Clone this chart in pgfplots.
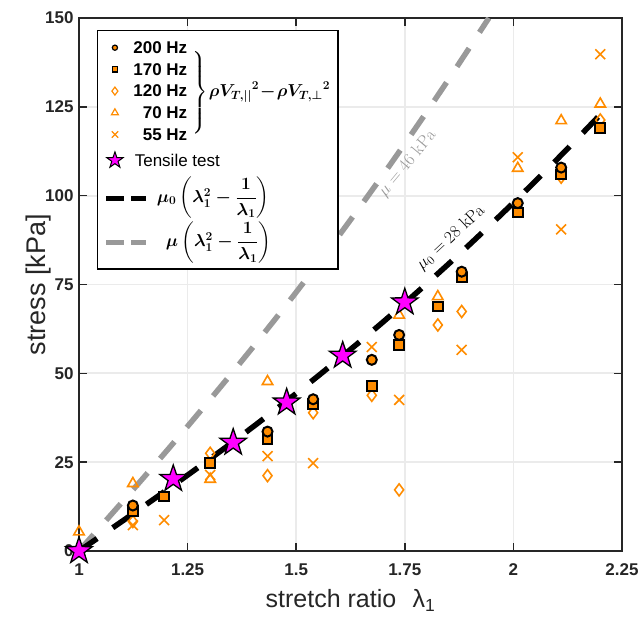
\documentclass[border=0pt]{standalone}
\usepackage{amsmath}
\usepackage[no-math]{fontspec}
\setmainfont{Liberation Sans}
\usepackage{pgfplots}
\usepackage{pgfplotstable}
\pgfplotsset{compat=1.18}
\usetikzlibrary{plotmarks}
\definecolor{orng}{RGB}{255,140,0}
\definecolor{mag}{RGB}{255,0,255}
\definecolor{lgray}{RGB}{153,153,153}
\definecolor{axc}{RGB}{38,38,38}
\definecolor{gridc}{RGB}{235,235,235}

\pgfdeclareplotmark{fstar}{%
  \pgfpathmoveto{\pgfqpointpolar{90}{\pgfplotmarksize}}%
  \pgfpathlineto{\pgfqpointpolar{126}{0.39\pgfplotmarksize}}%
  \pgfpathlineto{\pgfqpointpolar{162}{\pgfplotmarksize}}%
  \pgfpathlineto{\pgfqpointpolar{198}{0.39\pgfplotmarksize}}%
  \pgfpathlineto{\pgfqpointpolar{234}{\pgfplotmarksize}}%
  \pgfpathlineto{\pgfqpointpolar{270}{0.39\pgfplotmarksize}}%
  \pgfpathlineto{\pgfqpointpolar{306}{\pgfplotmarksize}}%
  \pgfpathlineto{\pgfqpointpolar{342}{0.39\pgfplotmarksize}}%
  \pgfpathlineto{\pgfqpointpolar{18}{\pgfplotmarksize}}%
  \pgfpathlineto{\pgfqpointpolar{54}{0.39\pgfplotmarksize}}%
  \pgfpathclose
  \pgfusepathqfillstroke}

\pgfplotsset{
  markleg/.style={legend image code/.code={\draw[mark repeat=2,mark phase=2,##1] plot coordinates {(0pt,0pt) (8.6pt,0pt) (40pt,0pt)};}},
  lineleg/.style={legend image code/.code={\draw[##1] (0pt,0pt) -- (40pt,0pt);}},
}

% 200 Hz
\pgfplotstableread{
x y
1.124 12.8
1.434 33.6
1.539 42.7
1.674 53.8
1.737 60.8
1.881 78.6
2.010 97.9
2.110 107.9
}\dcirc
% 170 Hz
\pgfplotstableread{
x y
1.124 11.3
1.196 15.3
1.302 24.7
1.434 31.5
1.539 41.3
1.674 46.5
1.737 58.0
1.826 68.8
1.881 77.0
2.010 95.3
2.110 106.0
2.200 119.1
}\dsq
% 120 Hz
\pgfplotstableread{
x y
1.124 8.3
1.302 27.5
1.434 21.2
1.539 38.9
1.674 43.8
1.737 17.2
1.826 63.6
1.881 67.4
2.110 105.2
2.200 121.3
}\ddia
% 70 Hz
\pgfplotstableread{
x y
1.000 5.4
1.124 19.0
1.302 20.2
1.434 47.7
1.737 66.4
1.826 71.6
2.010 107.7
2.110 121.1
2.200 125.8
}\dtri
% 55 Hz
\pgfplotstableread{
x y
1.124 7.3
1.196 8.7
1.302 21.4
1.434 26.7
1.539 24.7
1.674 57.4
1.737 42.5
1.881 56.6
2.010 110.8
2.110 90.5
2.200 139.8
}\dcross
% tensile test
\pgfplotstableread{
x y
1.000 0
1.217 20.3
1.355 30.5
1.478 41.8
1.607 55.0
1.750 70.0
}\dstar
% mu0 = 28 kPa model
\pgfplotstableread{
x y
1.00 0
1.05 4.20
1.10 8.43
1.15 12.68
1.20 16.99
1.25 21.35
1.30 25.78
1.35 30.29
1.40 34.88
1.45 39.56
1.50 44.33
1.55 49.21
1.60 54.18
1.65 59.26
1.70 64.45
1.75 69.75
1.80 75.16
1.85 80.69
1.90 86.34
1.95 92.11
2.00 98.00
2.05 104.01
2.10 110.15
2.15 116.41
2.20 122.79
}\dblack
% mu = 46 kPa model
\pgfplotstableread{
x y
1.00 0
1.05 6.91
1.10 13.84
1.15 20.84
1.20 27.91
1.25 35.08
1.30 42.36
1.35 49.76
1.40 57.30
1.45 64.99
1.50 72.83
1.55 80.84
1.60 89.01
1.65 97.36
1.70 105.88
1.75 114.59
1.80 123.48
1.85 132.57
1.90 141.85
1.9435 150.0
}\dgray

\begin{document}
\begin{tikzpicture}
\begin{axis}[
  scale only axis, width=543pt, height=533pt,
  at={(0,0)}, anchor=south west,
  xmin=1, xmax=2.25, ymin=0, ymax=150,
  xtick={1,1.25,1.5,1.75,2,2.25},
  xticklabels={1,1.25,1.5,1.75,2,2.25},
  ytick={0,25,50,75,100,125,150},
  yticklabels={0,25,50,75,100,125,150},
  grid=major, grid style={line width=1.8pt, color=gridc},
  axis line style={line width=1.6pt, color=axc},
  tick style={line width=1.6pt, color=axc},
  major tick length=8pt,
  ticklabel style={font=\fontsize{17}{19}\selectfont\bfseries, text=axc},
  xticklabel style={yshift=-9pt},
  yticklabel style={xshift=-2pt},
  /pgf/number format/assume math mode=true,
  xlabel={stretch ratio\hspace{0.65em}λ\textsubscript{1}},
  ylabel={stress [kPa]},
  label style={text=axc},
  xlabel style={font=\fontsize{25}{28}\selectfont, at={(axis description cs:0.5,-0.1069)}, anchor=base},
  ylabel style={font=\fontsize{27}{30}\selectfont, at={(axis description cs:-0.0626,0.5)}, anchor=base, rotate=0},
  legend style={at={(axis description cs:0.0331,0.9775)}, anchor=north west,
    draw=black, line width=1.4pt, fill=white, inner sep=6.15pt,
    font=\fontsize{17}{19}\selectfont, row sep=0pt, column sep=8pt,
    nodes={inner sep=0pt, text depth=, text height=}},
  legend cell align=left,
]
% model lines
\addplot[forget plot, color=lgray, line width=5.5pt, dash pattern=on 22pt off 19pt] table {\dgray};
\addplot[forget plot, color=black, line width=5.5pt, dash pattern=on 22pt off 19pt] table {\dblack};
% measurements
\addplot[forget plot, only marks, mark=x, mark size=7pt, mark options={draw=orng, line width=1.6pt}] table {\dcross};
\addplot[forget plot, only marks, mark=triangle, mark size=6pt, mark options={draw=orng, line width=1.6pt}] table {\dtri};
\addplot[forget plot, only marks, mark=diamond, mark size=6pt, mark options={draw=orng, line width=1.6pt}] table {\ddia};
\addplot[forget plot, only marks, mark=square*, mark size=4.8pt, mark options={fill=orng, draw=black, line width=2pt}] table {\dsq};
\addplot[forget plot, only marks, mark=*, mark size=5pt, mark options={fill=orng, draw=black, line width=2pt}] table {\dcirc};
\addplot[forget plot, only marks, mark=fstar, mark size=14pt, mark options={fill=mag, draw=black, line width=1.3pt}] table {\dstar};
% labels on the model lines
\node[rotate=43, font=\fontsize{18.5}{20}\selectfont] at (axis cs:1.856,88.1) {$\mu_0 = 28\ \mathrm{kPa}$};
\node[rotate=50, text=lgray, font=\fontsize{18.5}{20}\selectfont] at (axis cs:1.756,109) {$\mu = 46\ \mathrm{kPa}$};
% legend
\addlegendimage{only marks, mark=*, mark size=2.6pt, mark options={fill=orng, draw=black, line width=1.2pt}, markleg}
\addlegendentry{\hspace*{-24pt}\rule[-5.1pt]{0pt}{21.7pt}\makebox[3.2em][r]{\textbf{200 Hz}}}
\addlegendimage{only marks, mark=square*, mark size=2.6pt, mark options={fill=orng, draw=black, line width=1.2pt}, markleg}
\addlegendentry{\hspace*{-24pt}\rule[-5.1pt]{0pt}{21.7pt}\makebox[3.2em][r]{\textbf{170 Hz}}}
\addlegendimage{only marks, mark=diamond, mark size=4pt, mark options={draw=orng, line width=1.2pt}, markleg}
\addlegendentry{\hspace*{-24pt}\rule[-5.1pt]{0pt}{21.7pt}\makebox[199pt][l]{\makebox[3.2em][r]{\textbf{120 Hz}}\hspace{4pt}\smash{$\left.\vrule height 43pt depth 39pt width 0pt\right\}$}\hspace{1pt}\smash{\fontsize{17.5}{20}\selectfont\boldmath$\rho {V_{T,||}}^{2}\!-\!\rho {V_{T,\perp}}^{2}$}}}
\addlegendimage{only marks, mark=triangle, mark size=4pt, mark options={draw=orng, line width=1.2pt}, markleg}
\addlegendentry{\hspace*{-24pt}\rule[-5.1pt]{0pt}{21.7pt}\makebox[3.2em][r]{\textbf{70 Hz}}}
\addlegendimage{only marks, mark=x, mark size=4.5pt, mark options={draw=orng, line width=1.2pt}, markleg}
\addlegendentry{\hspace*{-24pt}\rule[-5.1pt]{0pt}{21.7pt}\makebox[3.2em][r]{\textbf{55 Hz}}}
\addlegendimage{only marks, mark=fstar, mark size=8.5pt, mark options={fill=mag, draw=black, line width=1pt}, markleg}
\addlegendentry{\hspace*{-22pt}\rule[-9.25pt]{0pt}{30pt}Tensile test}
\addlegendimage{lineleg, color=black, line width=5pt, dash pattern=on 18pt off 7pt}
\addlegendentry{\rule[-19pt]{0pt}{46pt}{\boldmath$\mu_0\left(\lambda_1^2-\dfrac{1}{\lambda_1}\right)$}}
\addlegendimage{lineleg, color=lgray, line width=5pt, dash pattern=on 18pt off 7pt}
\addlegendentry{\rule[-16pt]{0pt}{40pt}\hspace{9pt}{\boldmath$\mu\left(\lambda_1^2-\dfrac{1}{\lambda_1}\right)$}}
\end{axis}
\pgfresetboundingbox
\useasboundingbox (-79pt,-66pt) rectangle (562pt,551pt);
\end{tikzpicture}
\end{document}
